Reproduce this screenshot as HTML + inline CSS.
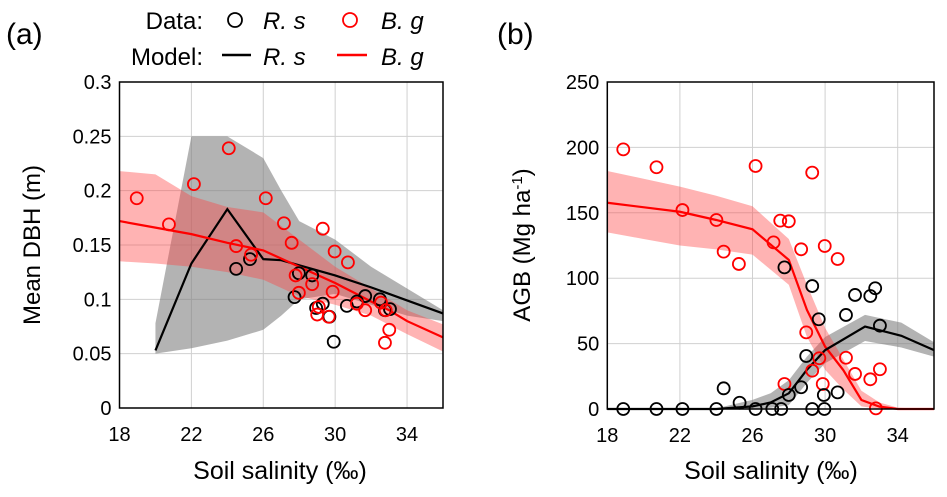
<!DOCTYPE html>
<html><head><meta charset="utf-8"><style>
body{margin:0;background:#fff;}
svg{display:block;font-family:"Liberation Sans",Arial,sans-serif;}
</style></head><body>
<svg id="c" width="947" height="497" viewBox="0 0 947 497"></svg>
<script>
// ---------- Panel (a) data ----------
const aRedX=[18.96,20.75,22.14,24.08,24.49,25.32,26.14,27.15,27.58,27.80,27.98,28.72,29.31,29.97,29.86,30.71,29.09,29.0,29.64,31.21,31.67,32.55,32.81,33.01,32.77];
const aRedY=[0.193,0.169,0.206,0.239,0.149,0.141,0.193,0.170,0.152,0.122,0.106,0.114,0.165,0.144,0.107,0.134,0.093,0.086,0.084,0.096,0.090,0.097,0.090,0.072,0.060];
const aBlkX=[24.49,25.26,27.74,27.98,28.72,28.94,29.31,29.68,29.92,30.65,31.21,31.67,32.49,32.77,33.05];
const aBlkY=[0.128,0.137,0.102,0.124,0.122,0.092,0.096,0.084,0.061,0.094,0.098,0.103,0.100,0.090,0.091];
const aBlkModelX=[20,22,24,26,27,30,32,34,36];
const aBlkModelY=[0.053,0.133,0.183,0.137,0.136,0.122,0.111,0.099,0.087];
const aBlkBandX=[20,22,24,26,27,28,30,32,34,36];
const aBlkBandHi=[0.078,0.25,0.25,0.23,0.2,0.172,0.155,0.13,0.11,0.09];
const aBlkBandLo=[0.05,0.055,0.062,0.072,0.085,0.1,0.105,0.095,0.085,0.08];
const aRedModelX=[18,20,22,24,26,28,30,32,33,34,36];
const aRedModelY=[0.172,0.166,0.16,0.152,0.145,0.13,0.115,0.098,0.09,0.08,0.065];
const aRedBandX=[18,20,22,24,26,28,30,32,34,36];
const aRedBandHi=[0.218,0.215,0.195,0.185,0.18,0.155,0.13,0.11,0.09,0.077];
const aRedBandLo=[0.135,0.133,0.13,0.125,0.118,0.103,0.095,0.085,0.068,0.052];
const aYTicks=["0","0.05","0.1","0.15","0.2","0.25","0.3"];
// ---------- Panel (b) data ----------
const bRedX=[18.88,20.71,22.14,24.01,24.41,25.25,26.17,27.16,27.53,28.0,28.68,29.29,29.98,30.69,28.96,29.68,29.29,29.87,27.76,31.15,31.65,32.49,33.02,32.80];
const bRedY=[198.5,184.8,152.1,144.5,120.3,110.9,185.8,127.4,144,143.5,122.1,180.7,124.6,114.7,58.6,38.8,29.3,19.1,19.1,39.2,26.8,22.7,30.4,0.5];
const bBlkX=[18.88,20.71,22.14,24.01,24.41,25.29,26.17,27.09,27.58,28.0,27.76,28.68,28.96,29.29,29.65,29.93,29.96,29.29,30.69,31.15,31.65,32.49,32.76,33.02];
const bBlkY=[0,0,0,0,15.8,4.8,0,0,0,10.7,108.3,16.6,40.5,94,68.6,10.7,0,0,12.7,71.9,87.2,86.4,92.3,63.7];
const bBlkModelX=[18,24,26,27,28,29,30,32.2,34.2,36];
const bBlkModelY=[0,0,2,5,12,30,45,63,56,45];
const bBlkBandHi=[0,0.5,7,12,22,40,55,72,66,51];
const bBlkBandLo=[0,0,0,1,3,20,35,52,47,40];
const bRedModelX=[18,22,24,26,28,29,30,31,32,33,34,36];
const bRedModelY=[157.7,150.8,144.5,137.4,114,75.7,47.7,29.8,6.9,1.8,0,0];
const bRedBandX=[18,20,22,24,26,28,29,30,31,32,33,34,36];
const bRedBandHi=[182,176,170,163,155,130,95,62,38,14,5,1,0];
const bRedBandLo=[135,130,125,122,118,95,55,30,15,2,0,0,0];
const bYTicks=["0","50","100","150","200","250"];
const xTicks=["18","22","26","30","34"];

const NS="http://www.w3.org/2000/svg";
const svg=document.getElementById('c');
function mk(tag,attrs,parent){const e=document.createElementNS(NS,tag);for(const k in attrs)e.setAttribute(k,attrs[k]);(parent||svg).appendChild(e);return e;}

function panel(P){
  const g=mk('g',{});
  
  
  const sx=v=>P.x0+(v-18)/18*(P.x1-P.x0);
  const sy=v=>P.y0-(v/P.ymax)*(P.y0-P.y1);
  xTicks.forEach(t=>{const x=sx(+t);
    const l=mk('line',{x1:x,x2:x,y1:P.y1,y2:P.y0,stroke:'#d0d0d0','stroke-width':1},g);
    
    const tx=mk('text',{x:x,y:P.y0+33,'text-anchor':'middle','font-size':20},g);tx.textContent=t;
    
  });
  P.yt.forEach(t=>{const y=sy(+t);
    const l=mk('line',{x1:P.x0,x2:P.x1,y1:y,y2:y,stroke:'#d0d0d0','stroke-width':1},g);
    
    const tx=mk('text',{x:P.x0-8,y:y+7,'text-anchor':'end','font-size':20},g);tx.textContent=t;
    
  });
  function band(xs,hi,lo,fill,op,name){
    let d='M'+xs.map((x,i)=>sx(x)+','+sy(hi[i])).join('L');
    for(let i=xs.length-1;i>=0;i--)d+='L'+sx(xs[i])+','+sy(lo[i]);
    const p=mk('path',{d:d+'Z',fill:fill,'fill-opacity':op},g);
    
  }
  function line(xs,ys,c,name){
    const p=mk('polyline',{points:xs.map((x,i)=>sx(x)+','+sy(ys[i])).join(' '),fill:'none',stroke:c,'stroke-width':2.2},g);
    
  }
  function pts(xs,ys,c,name){
    xs.forEach((x,i)=>{const p=mk('circle',{cx:sx(x),cy:sy(ys[i]),r:6,fill:'none',stroke:c,'stroke-width':1.8},g);
      });
  }
  P.draw(band,line,pts);
  const b=mk('rect',{x:P.x0,y:P.y1,width:P.x1-P.x0,height:P.y0-P.y1,fill:'none',stroke:'#000','stroke-width':1.5},g);
  
}

panel({name:'panel-a',x0:119.5,x1:443,y0:408,y1:82,ymax:0.3,yt:aYTicks,draw:(band,line,pts)=>{
  band(aBlkBandX,aBlkBandHi,aBlkBandLo,'#808080',0.6,'rs-model-band');
  band(aRedBandX,aRedBandHi,aRedBandLo,'#ff4040',0.4,'bg-model-band');
  line(aBlkModelX,aBlkModelY,'#000','rs-model-line');
  line(aRedModelX,aRedModelY,'#f00','bg-model-line');
  pts(aBlkX,aBlkY,'#000','rs-data-point');
  pts(aRedX,aRedY,'#f00','bg-data-point');
}});
panel({name:'panel-b',x0:607.3,x1:934,y0:409,y1:82,ymax:250,yt:bYTicks,draw:(band,line,pts)=>{
  band(bBlkModelX,bBlkBandHi,bBlkBandLo,'#808080',0.6,'rs-model-band');
  band(bRedBandX,bRedBandHi,bRedBandLo,'#ff4040',0.4,'bg-model-band');
  line(bRedModelX,bRedModelY,'#f00','bg-model-line');
  line(bBlkModelX,bBlkModelY,'#000','rs-model-line');
  pts(bRedX,bRedY,'#f00','bg-data-point');
  pts(bBlkX,bBlkY,'#000','rs-data-point');
}});
</script>
<div style="position:absolute;left:0;top:0;width:947px;height:497px;pointer-events:none">
<svg width="947" height="497" style="font-family:'Liberation Sans',Arial,sans-serif">
<text x="6" y="44" font-size="30">(a)</text>
<text x="497" y="44" font-size="30">(b)</text>
<text x="203" y="29" font-size="24" text-anchor="end">Data:</text>
<circle cx="235" cy="20" r="7" fill="none" stroke="#000" stroke-width="1.8"/>
<text x="263" y="29" font-size="24" font-style="italic">R. s</text>
<circle cx="350" cy="20" r="7" fill="none" stroke="#f00" stroke-width="1.8"/>
<text x="381" y="29" font-size="24" font-style="italic">B. g</text>
<text x="203" y="65" font-size="24" text-anchor="end">Model:</text>
<line x1="222" y1="55" x2="251" y2="55" stroke="#000" stroke-width="2.4"/>
<text x="263" y="65" font-size="24" font-style="italic">R. s</text>
<line x1="337" y1="55" x2="367" y2="55" stroke="#f00" stroke-width="2.4"/>
<text x="381" y="65" font-size="24" font-style="italic">B. g</text>
<text x="280" y="479" font-size="25" text-anchor="middle">Soil salinity (‰)</text>
<text x="771" y="479" font-size="25" text-anchor="middle">Soil salinity (‰)</text>
<text transform="translate(40,245) rotate(-90)" font-size="24" text-anchor="middle">Mean DBH (m)</text>
<text transform="translate(530,245) rotate(-90)" font-size="24" text-anchor="middle">AGB (Mg ha<tspan dy="-8" font-size="15">-1</tspan><tspan dy="8">)</tspan></text>
</svg></div>
</body></html>
